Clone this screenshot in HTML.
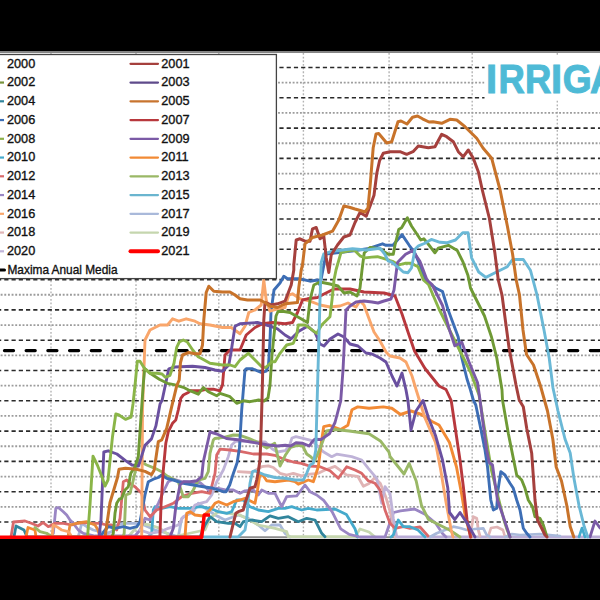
<!DOCTYPE html><html><head><meta charset="utf-8"><style>html,body{margin:0;padding:0;background:#000;width:600px;height:600px;overflow:hidden}svg{display:block}text{font-family:"Liberation Sans",sans-serif}</style></head><body>
<svg width="600" height="600" viewBox="0 0 600 600">
<rect x="0" y="0" width="600" height="600" fill="#000"/>
<rect x="0" y="51" width="600" height="488" fill="#fff"/>
<rect x="0" y="51" width="600" height="2" fill="#858585"/>
<line x1="51.00" y1="53" x2="51.00" y2="538" stroke="#b4b4b4" stroke-width="1.4" stroke-dasharray="1.8 1.87"/>
<line x1="136.00" y1="53" x2="136.00" y2="538" stroke="#b4b4b4" stroke-width="1.4" stroke-dasharray="1.8 1.87"/>
<line x1="218.80" y1="53" x2="218.80" y2="538" stroke="#b4b4b4" stroke-width="1.4" stroke-dasharray="1.8 1.87"/>
<line x1="303.40" y1="53" x2="303.40" y2="538" stroke="#b4b4b4" stroke-width="1.4" stroke-dasharray="1.8 1.87"/>
<line x1="389.10" y1="53" x2="389.10" y2="538" stroke="#b4b4b4" stroke-width="1.4" stroke-dasharray="1.8 1.87"/>
<line x1="472.20" y1="53" x2="472.20" y2="538" stroke="#b4b4b4" stroke-width="1.4" stroke-dasharray="1.8 1.87"/>
<line x1="557.30" y1="53" x2="557.30" y2="538" stroke="#b4b4b4" stroke-width="1.4" stroke-dasharray="1.8 1.87"/>
<line x1="0" y1="67.50" x2="600" y2="67.50" stroke="#2a2a2a" stroke-width="1.6" stroke-dasharray="4.2 3.04" stroke-dashoffset="2.96"/>
<line x1="0" y1="82.65" x2="600" y2="82.65" stroke="#9c9c9c" stroke-width="1.8" stroke-dasharray="1.9 1.75" stroke-dashoffset="3.0"/>
<line x1="0" y1="97.80" x2="600" y2="97.80" stroke="#2a2a2a" stroke-width="1.6" stroke-dasharray="4.2 3.04" stroke-dashoffset="2.96"/>
<line x1="0" y1="112.95" x2="600" y2="112.95" stroke="#9c9c9c" stroke-width="1.8" stroke-dasharray="1.9 1.75" stroke-dashoffset="3.0"/>
<line x1="0" y1="128.10" x2="600" y2="128.10" stroke="#2a2a2a" stroke-width="1.6" stroke-dasharray="4.2 3.04" stroke-dashoffset="2.96"/>
<line x1="0" y1="143.25" x2="600" y2="143.25" stroke="#9c9c9c" stroke-width="1.8" stroke-dasharray="1.9 1.75" stroke-dashoffset="3.0"/>
<line x1="0" y1="158.40" x2="600" y2="158.40" stroke="#2a2a2a" stroke-width="1.6" stroke-dasharray="4.2 3.04" stroke-dashoffset="2.96"/>
<line x1="0" y1="173.55" x2="600" y2="173.55" stroke="#9c9c9c" stroke-width="1.8" stroke-dasharray="1.9 1.75" stroke-dashoffset="3.0"/>
<line x1="0" y1="188.70" x2="600" y2="188.70" stroke="#2a2a2a" stroke-width="1.6" stroke-dasharray="4.2 3.04" stroke-dashoffset="2.96"/>
<line x1="0" y1="203.85" x2="600" y2="203.85" stroke="#9c9c9c" stroke-width="1.8" stroke-dasharray="1.9 1.75" stroke-dashoffset="3.0"/>
<line x1="0" y1="219.00" x2="600" y2="219.00" stroke="#2a2a2a" stroke-width="1.6" stroke-dasharray="4.2 3.04" stroke-dashoffset="2.96"/>
<line x1="0" y1="234.15" x2="600" y2="234.15" stroke="#9c9c9c" stroke-width="1.8" stroke-dasharray="1.9 1.75" stroke-dashoffset="3.0"/>
<line x1="0" y1="249.30" x2="600" y2="249.30" stroke="#2a2a2a" stroke-width="1.6" stroke-dasharray="4.2 3.04" stroke-dashoffset="2.96"/>
<line x1="0" y1="264.45" x2="600" y2="264.45" stroke="#9c9c9c" stroke-width="1.8" stroke-dasharray="1.9 1.75" stroke-dashoffset="3.0"/>
<line x1="0" y1="279.60" x2="600" y2="279.60" stroke="#2a2a2a" stroke-width="1.6" stroke-dasharray="4.2 3.04" stroke-dashoffset="2.96"/>
<line x1="0" y1="294.75" x2="600" y2="294.75" stroke="#9c9c9c" stroke-width="1.8" stroke-dasharray="1.9 1.75" stroke-dashoffset="3.0"/>
<line x1="0" y1="309.90" x2="600" y2="309.90" stroke="#2a2a2a" stroke-width="1.6" stroke-dasharray="4.2 3.04" stroke-dashoffset="2.96"/>
<line x1="0" y1="325.05" x2="600" y2="325.05" stroke="#9c9c9c" stroke-width="1.8" stroke-dasharray="1.9 1.75" stroke-dashoffset="3.0"/>
<line x1="0" y1="340.20" x2="600" y2="340.20" stroke="#2a2a2a" stroke-width="1.6" stroke-dasharray="4.2 3.04" stroke-dashoffset="2.96"/>
<line x1="0" y1="355.35" x2="600" y2="355.35" stroke="#9c9c9c" stroke-width="1.8" stroke-dasharray="1.9 1.75" stroke-dashoffset="3.0"/>
<line x1="0" y1="370.50" x2="600" y2="370.50" stroke="#2a2a2a" stroke-width="1.6" stroke-dasharray="4.2 3.04" stroke-dashoffset="2.96"/>
<line x1="0" y1="385.65" x2="600" y2="385.65" stroke="#9c9c9c" stroke-width="1.8" stroke-dasharray="1.9 1.75" stroke-dashoffset="3.0"/>
<line x1="0" y1="400.80" x2="600" y2="400.80" stroke="#2a2a2a" stroke-width="1.6" stroke-dasharray="4.2 3.04" stroke-dashoffset="2.96"/>
<line x1="0" y1="415.95" x2="600" y2="415.95" stroke="#9c9c9c" stroke-width="1.8" stroke-dasharray="1.9 1.75" stroke-dashoffset="3.0"/>
<line x1="0" y1="431.10" x2="600" y2="431.10" stroke="#2a2a2a" stroke-width="1.6" stroke-dasharray="4.2 3.04" stroke-dashoffset="2.96"/>
<line x1="0" y1="446.25" x2="600" y2="446.25" stroke="#9c9c9c" stroke-width="1.8" stroke-dasharray="1.9 1.75" stroke-dashoffset="3.0"/>
<line x1="0" y1="461.40" x2="600" y2="461.40" stroke="#2a2a2a" stroke-width="1.6" stroke-dasharray="4.2 3.04" stroke-dashoffset="2.96"/>
<line x1="0" y1="476.55" x2="600" y2="476.55" stroke="#9c9c9c" stroke-width="1.8" stroke-dasharray="1.9 1.75" stroke-dashoffset="3.0"/>
<line x1="0" y1="491.70" x2="600" y2="491.70" stroke="#2a2a2a" stroke-width="1.6" stroke-dasharray="4.2 3.04" stroke-dashoffset="2.96"/>
<line x1="0" y1="506.85" x2="600" y2="506.85" stroke="#9c9c9c" stroke-width="1.8" stroke-dasharray="1.9 1.75" stroke-dashoffset="3.0"/>
<line x1="0" y1="522.00" x2="600" y2="522.00" stroke="#2a2a2a" stroke-width="1.6" stroke-dasharray="4.2 3.04" stroke-dashoffset="2.96"/>
<line x1="4.4" y1="350.6" x2="600" y2="350.6" stroke="#000" stroke-width="3.1" stroke-linecap="round" stroke-dasharray="9.2 12.5"/>
<polyline points="0.0,537.3 600.0,537.3" fill="none" stroke="#8c8c8c" stroke-width="2.0" stroke-linejoin="round" stroke-linecap="round"/>
<polyline points="395.0,536.8 600.0,536.8" fill="none" stroke="#b9acd6" stroke-width="2.8" stroke-linejoin="round" stroke-linecap="round"/>
<polyline points="590.0,537.0 595.0,521.0 600.0,528.0" fill="none" stroke="#7b5aa6" stroke-width="2.8" stroke-linejoin="round" stroke-linecap="round"/>
<polyline points="579.0,537.0 582.0,528.0 585.0,537.0" fill="none" stroke="#45aacc" stroke-width="2.6" stroke-linejoin="round" stroke-linecap="round"/>
<polyline points="78.3,536.7 81.7,523.3 86.7,526.7 93.3,530.0 100.0,531.7 106.7,533.3 111.7,531.7 116.7,525.0 123.3,523.3 133.3,523.3 140.0,523.3 155.0,530.0 170.0,534.0 178.3,537.0 181.7,518.3 186.7,515.0 193.3,511.7 198.3,503.3 205.0,508.0 215.0,515.0 225.0,520.0 238.3,515.0 248.3,518.3 258.3,525.0 265.0,530.8 271.7,525.0 280.0,525.0 285.0,533.3 290.0,537.0" fill="none" stroke="#a9b9da" stroke-width="2.8" stroke-linejoin="round" stroke-linecap="round"/>
<polyline points="128.0,537.0 140.0,523.3 150.0,525.0 160.0,528.3 166.7,533.3 172.0,537.0 205.0,530.0 210.0,518.3 218.3,511.7 228.3,513.3 240.0,515.0 258.3,525.0 275.0,528.3 286.7,531.7 288.3,536.7 355.0,536.7 360.0,529.0 369.0,532.0 375.0,537.0" fill="none" stroke="#c5d6ae" stroke-width="2.8" stroke-linejoin="round" stroke-linecap="round"/>
<polyline points="14.0,537.0 16.0,526.0 24.0,530.0 27.0,537.0 200.0,537.0 205.0,525.0 210.0,516.7 216.7,521.7 228.3,523.3 235.0,523.3 240.0,526.7 243.3,521.7 251.7,520.0 261.7,521.7 270.0,515.8 278.3,518.3 288.3,516.7 298.3,521.7 306.7,518.3 315.0,520.0 321.7,533.3 325.0,536.7" fill="none" stroke="#31859c" stroke-width="2.8" stroke-linejoin="round" stroke-linecap="round"/>
<polyline points="148.0,537.0 151.7,533.3 153.3,510.0 155.0,506.7 161.7,508.3 170.0,506.7 178.3,508.3 190.0,508.3 200.0,506.7 210.0,508.3 218.3,511.7 226.7,513.3 231.7,511.7 236.7,500.0 243.3,500.0 250.0,506.7 258.3,510.0 268.3,511.7 278.3,508.3 285.0,508.3 291.7,506.7 301.7,510.0 308.3,508.3 316.7,510.0 335.0,509.0 346.4,514.6 355.0,528.8 357.7,537.0" fill="none" stroke="#45aacc" stroke-width="2.8" stroke-linejoin="round" stroke-linecap="round"/>
<polyline points="50.0,537.0 53.3,533.3 55.8,508.3 58.3,507.5 63.3,511.7 66.7,515.0 70.0,520.0 73.3,523.3 78.3,530.0 83.3,533.3 95.0,536.0 135.0,536.0 140.0,530.0 145.0,518.3 150.0,520.0 153.3,513.3 158.3,503.3 165.0,488.3 168.3,481.7 173.3,479.2 181.7,481.7 190.0,482.5 200.0,482.5 206.7,488.3 210.0,491.7 213.3,488.3 218.3,488.3 226.7,490.0 233.3,490.0 240.0,493.3 245.0,490.8 253.3,490.0 258.3,495.0 261.7,490.0 268.3,493.3 275.0,493.3 281.7,506.7 286.7,496.7 296.7,495.8 305.0,485.0 310.0,491.7 316.7,495.0 323.7,500.4 332.2,511.8 340.7,528.8 349.2,534.4 360.0,537.0 385.0,537.0 393.5,512.5 400.5,510.8 414.5,509.0 425.0,514.2 435.5,523.0 442.5,533.5 446.0,537.0" fill="none" stroke="#9a86c4" stroke-width="2.8" stroke-linejoin="round" stroke-linecap="round"/>
<polyline points="238.3,471.7 251.7,472.5 261.7,466.7 268.3,465.8 273.3,467.5 280.0,473.3 286.7,475.0 293.3,473.3 301.7,475.8 310.0,474.2 318.3,473.3 325.0,470.0 335.0,466.4 346.4,474.9 357.7,476.3 363.4,486.2 369.0,483.4 374.7,477.7 380.4,483.4 386.0,497.6 391.8,517.4 395.0,537.0" fill="none" stroke="#e0b4b5" stroke-width="2.8" stroke-linejoin="round" stroke-linecap="round"/>
<polyline points="470.0,537.0 471.7,526.7 473.3,516.7 476.7,518.3 478.3,530.0 480.0,536.0" fill="none" stroke="#e0b4b5" stroke-width="2.8" stroke-linejoin="round" stroke-linecap="round"/>
<polyline points="488.0,537.0 491.0,528.0 497.0,527.0 503.0,530.0 505.0,537.0" fill="none" stroke="#e0b4b5" stroke-width="2.6" stroke-linejoin="round" stroke-linecap="round"/>
<polyline points="430.0,537.0 436.7,533.3 445.0,530.0 453.3,526.7 460.0,528.0 466.7,530.0 475.0,529.0 483.3,528.3 486.7,535.0 490.0,537.0" fill="none" stroke="#a9b9da" stroke-width="2.7" stroke-linejoin="round" stroke-linecap="round"/>
<polyline points="505.0,537.0 512.0,534.0 520.0,535.0 540.0,534.0 560.0,536.0" fill="none" stroke="#a9b9da" stroke-width="2.6" stroke-linejoin="round" stroke-linecap="round"/>
<polyline points="140.0,530.0 150.0,533.3 160.0,531.7 168.3,528.3 178.3,525.0 183.3,516.7 190.0,513.3 195.0,505.0 200.0,503.3 206.7,501.7 211.7,495.0 216.7,481.7 223.3,470.0 228.3,456.7 231.7,445.0 236.0,441.0 248.0,441.3 257.3,442.0 265.3,442.0 272.0,448.7 277.3,452.0 285.3,450.7 289.3,446.0 292.0,438.0 296.0,436.7 304.0,438.7 312.0,440.7 318.0,446.6 323.3,451.7 331.7,456.7 336.7,454.2 351.7,456.7 361.7,460.0 368.3,468.3 376.7,478.3 381.7,503.3 385.0,486.7 390.0,493.3 393.3,518.3 396.7,536.7" fill="none" stroke="#bfb3d8" stroke-width="2.8" stroke-linejoin="round" stroke-linecap="round"/>
<polyline points="11.0,537.0 13.5,522.0 25.0,521.0 32.0,523.5 38.0,526.0 43.0,522.5 48.3,526.7 55.0,523.3 63.3,523.3 71.7,525.0 76.7,523.3 85.0,522.5 91.7,523.3 100.0,523.3 106.7,525.0 111.7,525.0 116.7,530.0 120.0,518.3 123.3,481.7 126.7,480.0 130.8,484.2 135.0,486.7 140.0,491.7 141.7,493.3 145.0,510.0 150.0,516.7 156.7,510.0 165.0,506.7 173.3,503.3 181.7,496.7 191.7,493.3 201.7,491.7 210.0,493.3 215.0,473.3 216.7,455.0 220.0,449.2 230.0,450.0 240.0,451.3 253.3,454.0 266.7,454.0 274.7,455.3 284.0,459.3 293.3,462.0 301.3,463.3 309.3,466.0 320.0,466.7 330.0,470.8 338.3,478.3 346.7,466.7 355.0,470.0 361.7,473.3 368.3,480.8 375.0,483.3 380.0,490.0 385.0,510.0 390.0,523.3 395.0,528.3 403.3,526.7 410.0,528.3 420.0,527.0 428.0,536.0" fill="none" stroke="#d9696a" stroke-width="2.8" stroke-linejoin="round" stroke-linecap="round"/>
<polyline points="185.0,537.0 186.7,513.3 190.0,511.7 195.0,515.0 203.0,516.0 210.0,510.0 215.0,503.3 218.3,501.7 226.7,505.0 233.3,501.7 240.0,500.0 245.0,498.3 255.0,503.3 257.5,490.0 260.0,473.3 263.3,475.8 266.7,480.8 275.0,481.7 288.3,480.0 295.0,481.7 298.3,484.2 308.3,480.0 313.3,481.7 318.3,466.7 321.7,440.0 323.7,426.7 329.4,425.3 340.7,429.5 347.8,425.3 352.0,409.7 357.7,406.9 369.0,408.3 383.3,406.9 391.8,408.3 400.5,414.5 411.0,411.0 421.5,414.5 432.0,421.5 439.0,425.0 449.5,442.5 456.5,467.0 461.8,495.0 465.2,516.0 468.8,530.0 471.0,537.0" fill="none" stroke="#f28a35" stroke-width="2.9" stroke-linejoin="round" stroke-linecap="round"/>
<polyline points="26.0,537.0 28.0,527.5 35.0,530.0 36.0,537.0" fill="none" stroke="#f28a35" stroke-width="2.8" stroke-linejoin="round" stroke-linecap="round"/>
<polyline points="68.0,537.0 70.0,525.0 78.0,523.0 86.7,521.7 95.0,525.0 98.0,530.0 100.0,537.0" fill="none" stroke="#e8893a" stroke-width="2.8" stroke-linejoin="round" stroke-linecap="round"/>
<polyline points="52.0,537.0 53.3,525.0 56.7,526.7 61.7,530.0 68.3,531.7 70.8,535.0" fill="none" stroke="#f9a66b" stroke-width="2.8" stroke-linejoin="round" stroke-linecap="round"/>
<polyline points="35.0,527.5 40.0,531.7 46.7,533.3 52.0,537.0 123.0,537.0 124.2,533.3 125.8,495.0 130.0,493.3 133.3,480.0 136.7,465.0 138.3,461.7 143.3,463.3 146.7,465.0 155.0,468.3 161.7,471.7 166.7,475.8 173.3,479.2 178.3,481.7 183.3,496.7 188.3,496.7 193.3,490.0 198.3,480.0 205.0,478.3 208.3,471.7 210.0,453.3 213.3,440.0 214.8,438.5 224.0,437.4 233.5,435.0 240.0,435.3 249.3,438.7 257.3,442.0 266.7,448.0 274.7,443.3 280.0,466.0 285.3,455.3 290.7,447.3 297.3,445.3 302.7,446.0 306.7,454.0 310.7,456.7 314.7,460.7 320.0,448.7 326.5,431.0 335.0,429.5 349.2,431.0 369.0,433.8 380.4,440.9 389.0,452.2 390.0,456.5 404.0,474.0 409.2,463.5 416.2,481.0 421.5,505.5 428.5,519.5 439.0,524.8 449.5,530.0 460.0,537.0" fill="none" stroke="#9ab866" stroke-width="2.9" stroke-linejoin="round" stroke-linecap="round"/>
<polyline points="100.0,537.0 105.0,530.0 108.3,526.7 115.0,528.3 123.3,526.7 130.0,528.3 136.7,526.7 140.0,521.7 145.0,495.0 148.3,481.7 153.3,479.2 158.3,477.5 161.7,475.0 166.7,478.3 173.3,480.0 183.3,483.3 193.3,485.0 203.3,486.7 213.3,488.3 223.3,491.7 226.0,491.7 229.7,485.0 233.5,473.0 237.2,462.5 239.5,447.5 241.7,410.0 245.0,370.0 246.2,368.8 252.5,368.8 261.2,372.5 266.2,371.2 268.5,365.0 270.0,340.0 271.0,312.0 274.0,290.0 280.0,283.0 283.8,276.2 287.5,278.8 300.0,278.8 310.0,281.2 317.5,280.0 320.0,285.0 326.0,254.0 352.0,251.0 367.5,248.8 382.5,243.8 386.0,245.3 393.0,245.3 402.0,234.6 409.2,245.3 414.5,252.4 419.9,264.9 425.2,280.0 435.5,288.0 442.5,291.5 447.8,309.0 453.0,323.0 458.2,337.0 461.8,358.0 467.0,379.0 470.5,390.0 473.3,400.0 475.8,405.0 480.0,425.0 485.0,450.0 487.5,466.7 490.8,500.0 493.3,510.0 496.7,508.3 498.0,490.0 500.8,471.7 505.0,475.0 510.0,483.3 513.3,488.3 516.7,500.0 520.0,510.0 523.3,528.3 526.7,533.3 530.0,537.0" fill="none" stroke="#3d6eb5" stroke-width="2.9" stroke-linejoin="round" stroke-linecap="round"/>
<polyline points="141.7,537.0 142.5,410.0 145.0,340.0 150.0,330.0 160.0,325.0 167.5,325.0 172.5,318.8 178.8,321.2 186.2,318.8 195.0,321.2 200.0,323.8 210.0,325.0 222.5,327.5 231.2,327.5 240.0,333.8 245.0,326.2 248.8,312.5 255.0,310.0 261.2,305.0 263.8,280.0 266.2,300.0 270.0,311.2 277.5,308.8 285.0,307.5 288.8,295.0 292.5,293.8 300.0,298.8 310.0,301.2 320.0,305.0 330.0,307.0 340.0,306.0 348.0,303.0 356.0,307.0 360.0,301.0 364.0,305.0 368.0,316.0 374.0,332.0 380.0,341.0 386.0,352.0 390.0,356.0 400.0,358.0 406.0,362.0 412.0,376.0 416.2,390.0 425.0,418.0 435.5,442.5 440.8,470.5 446.0,502.0 451.2,530.0 453.0,537.0" fill="none" stroke="#f9a66b" stroke-width="2.9" stroke-linejoin="round" stroke-linecap="round"/>
<polyline points="159.9,537.0 161.0,505.0 163.3,470.0 165.8,443.3 168.3,431.7 172.5,423.3 175.8,420.0 178.3,410.0 180.8,398.3 183.3,395.0 188.3,392.5 190.0,390.8 200.0,390.8 206.7,389.2 213.3,389.2 220.0,390.8 222.5,385.0 225.0,355.0 230.0,350.0 240.0,350.0 246.2,335.0 255.0,327.5 262.5,323.8 272.5,322.5 285.0,323.8 292.5,322.5 297.5,312.5 302.5,300.0 307.5,298.8 317.5,297.5 324.0,294.0 334.0,289.0 350.0,289.0 364.0,292.0 384.0,293.0 395.0,296.0 402.0,314.0 408.0,332.0 414.5,351.0 425.0,368.5 439.0,386.0 446.0,389.5 451.2,400.5 454.8,425.0 460.0,460.0 463.5,488.0 467.0,519.5 470.5,537.0" fill="none" stroke="#b8383d" stroke-width="2.9" stroke-linejoin="round" stroke-linecap="round"/>
<polyline points="99.0,537.0 101.0,520.0 103.8,452.0 108.2,450.8 116.9,454.0 125.5,460.6 132.0,465.0 138.5,466.0 145.0,445.4 151.5,438.9 155.9,425.9 160.0,404.2 162.2,400.0 168.8,368.8 175.0,367.0 192.5,366.2 205.0,367.5 215.0,370.0 222.5,371.2 228.8,365.0 231.0,352.5 235.0,326.2 240.0,323.8 257.5,322.5 270.0,326.2 277.5,328.8 285.0,335.0 291.2,338.8 298.8,331.2 307.5,326.2 315.0,332.5 320.0,344.0 324.0,346.0 330.0,339.0 338.0,334.0 344.0,337.0 350.0,344.0 358.0,346.0 366.0,353.0 372.0,354.0 380.0,358.0 386.0,362.0 392.0,376.0 397.0,386.0 402.0,373.0 406.0,390.0 408.0,401.0 411.0,430.0 416.0,411.0 423.0,400.5 428.5,418.0 435.5,435.5 442.5,460.0 447.8,488.0 449.5,512.5 454.8,519.5 460.0,512.5 467.0,523.0 475.0,537.0" fill="none" stroke="#6a50a0" stroke-width="2.9" stroke-linejoin="round" stroke-linecap="round"/>
<polyline points="170.0,537.0 173.3,528.3 175.8,506.7 180.0,485.0 183.3,481.7 190.0,481.7 196.7,480.8 201.7,476.7 203.3,461.7 206.7,446.7 210.0,432.0 217.0,434.0 226.4,438.5 240.0,440.0 250.7,442.0 266.7,444.7 277.3,446.0 285.3,445.3 290.7,446.0 296.0,442.7 302.7,443.3 309.3,446.0 312.0,442.0 314.7,439.3 321.0,439.5 329.4,433.8 335.0,422.5 340.7,401.0" fill="none" stroke="#7b5aa6" stroke-width="2.9" stroke-linejoin="round" stroke-linecap="round"/>
<polyline points="112.0,537.0 113.3,533.3 115.0,513.3 116.7,503.3 119.2,499.2 121.7,498.3 125.0,490.0 128.3,486.7 130.8,473.3 135.0,466.7 138.3,456.7 141.3,412.7 143.3,383.8 144.7,368.7 151.3,374.0 159.3,379.3 167.3,383.3 174.0,384.7 183.3,387.3 190.0,390.7 198.3,394.2 203.3,387.5 208.3,391.7 216.7,395.8 220.0,393.3 230.0,396.7 236.7,403.3 243.3,400.8 250.0,401.7 258.5,400.0 264.0,401.0 268.0,398.0 270.0,385.0 272.0,355.0 274.0,335.0 276.0,316.0 278.0,311.5 282.5,311.2 290.0,312.5 298.8,317.5 307.5,322.5 310.0,300.0 313.8,285.0 320.0,282.0 330.0,284.0 338.0,286.0 344.0,293.0 350.0,292.0 357.0,296.0 360.0,288.0 362.0,270.0 364.2,253.0 370.0,247.5 375.8,248.3 380.0,248.8 384.2,251.7 388.3,254.2 393.3,254.2 395.0,245.0 397.5,235.0 398.7,229.5 401.6,227.8 407.4,217.8 411.5,226.0 416.2,233.0 420.8,240.0 423.8,238.8 427.8,243.5 434.9,252.8 438.3,248.2 448.4,245.3 457.3,250.6 462.7,261.3 468.0,275.6 470.5,288.0 484.5,316.0 491.5,337.0 496.8,358.0 500.2,379.0 502.0,390.0 502.5,400.0 508.3,433.3 513.3,458.3 516.7,475.0 521.7,480.0 525.0,488.3 528.3,500.0 532.5,506.7 535.0,516.7 540.0,518.3 543.3,525.0 546.7,536.0" fill="none" stroke="#6f9a35" stroke-width="2.9" stroke-linejoin="round" stroke-linecap="round"/>
<polyline points="87.5,537.5 90.0,505.0 93.0,456.2 97.3,465.0 101.7,476.0 105.0,486.0 108.0,480.0 112.5,436.7 115.8,414.0 119.0,415.0 125.5,419.4 131.0,417.2 133.0,404.0 135.3,382.5 137.3,361.3 140.0,361.3 144.7,368.7 150.0,373.3 156.7,373.3 162.0,374.0 165.3,377.3 170.0,375.3 174.0,363.3 176.7,347.3 179.3,342.0 183.3,340.0 187.3,342.0 192.7,350.0 198.0,356.7 202.0,358.7 210.0,363.3 222.5,365.0 230.0,365.0 235.0,366.7 240.0,360.0 248.3,353.3 255.0,360.0 261.7,366.7 265.8,367.5 271.7,361.7 275.0,361.7 280.0,353.3 286.7,345.0 293.3,343.3 296.7,335.0 298.3,325.0 305.0,325.0 310.0,328.3 316.7,333.3 321.7,325.0 330.0,316.7 332.0,300.0 334.0,280.0 336.0,270.0 341.0,252.5 352.5,250.0 355.0,250.8 360.0,255.8 365.0,257.9 371.7,257.1 377.5,256.7 383.3,258.3 388.3,260.0 393.3,261.7 398.3,265.0 401.7,264.2 405.0,263.3 411.0,263.3 418.0,266.7 423.4,280.0 428.5,284.5 439.0,309.0 449.5,330.0 460.0,351.0 470.5,372.0 479.0,395.0 486.2,439.0 491.5,470.5 498.5,498.5 503.8,519.5 507.2,530.0 510.0,537.0" fill="none" stroke="#8ab548" stroke-width="2.9" stroke-linejoin="round" stroke-linecap="round"/>
<polyline points="340.7,401.0 343.0,370.0 344.0,350.0 346.0,310.0 350.0,306.0 356.0,302.0 364.0,301.0 372.0,302.0 378.0,303.0 384.0,301.0 391.0,299.0 394.0,290.0 397.5,262.5 405.6,254.2 412.7,250.6 419.9,261.3 427.0,280.0 432.0,284.5 442.5,305.5 449.5,330.0 454.8,345.8 461.8,342.2 468.8,361.5 477.5,382.5 480.0,400.0 483.3,425.0 486.7,450.0 489.2,462.5 492.5,465.0 495.0,483.3 497.5,500.0 503.3,516.7 508.3,531.7 510.0,537.0" fill="none" stroke="#7b5aa6" stroke-width="2.9" stroke-linejoin="round" stroke-linecap="round"/>
<polyline points="204.0,537.0 238.3,536.7 245.0,530.0 246.7,520.0 248.3,498.3 250.0,483.3 252.5,471.7 255.0,470.8 265.0,475.0 275.0,477.5 285.0,478.3 295.0,480.0 303.3,480.0 306.7,473.3 310.0,465.0 313.3,463.3 315.8,450.0 318.0,370.0 320.0,300.0 321.2,262.5 323.8,253.8 332.5,251.2 352.5,248.8 366.2,250.0 380.0,248.2 384.7,254.0 388.2,261.0 391.7,262.2 397.5,266.8 403.3,272.0 408.0,272.7 411.5,268.0 415.0,249.3 418.5,245.8 424.3,243.5 431.3,239.4 440.0,242.3 446.6,242.8 455.5,240.0 462.7,232.8 468.0,232.8 471.6,257.8 478.7,272.0 485.9,277.4 496.6,272.0 507.3,266.7 512.6,259.5 523.3,259.5 530.4,270.2 537.0,295.0 544.0,330.0 549.2,358.0 553.0,388.0 558.0,411.0 565.0,439.0 570.2,453.0 573.8,477.5 579.0,505.5 584.2,526.5 587.8,537.0" fill="none" stroke="#6ab8d6" stroke-width="2.9" stroke-linejoin="round" stroke-linecap="round"/>
<polyline points="230.0,537.0 233.3,523.3 235.8,513.3 238.3,511.7 243.3,510.0 245.0,503.3 250.0,488.3 255.0,486.7 256.7,480.0 258.3,471.7 260.0,460.0 260.8,440.0 262.0,400.0 262.5,380.0 263.8,320.0 265.0,302.5 271.2,305.0 277.5,303.8 285.0,301.2 291.2,285.0 293.8,270.0 293.8,265.0 296.2,240.0 300.0,238.8 305.0,241.2 310.0,241.2 312.5,228.8 316.2,227.5 320.0,238.8 323.8,236.2 326.2,257.5 328.8,272.5 331.2,255.0 337.5,245.0 343.8,237.0 350.0,235.0 355.0,222.5 360.0,212.5 366.2,216.2 371.3,202.7 374.0,195.3 376.8,173.3 379.6,160.5 383.3,153.3 390.0,151.7 400.0,151.7 406.7,154.3 413.0,151.7 418.3,146.0 428.3,147.7 435.0,146.7 441.7,134.3 446.7,136.7 453.3,141.7 458.3,151.7 463.3,156.7 468.3,150.0 473.3,158.3 478.3,171.7 482.3,190.0 489.4,218.5 494.8,252.4 498.3,280.0 502.0,295.0 509.0,347.5 516.0,385.0 519.2,400.0 523.3,406.7 526.7,428.3 531.7,453.3 535.0,500.0 537.5,520.0 541.7,528.3 545.0,535.0 547.0,537.0" fill="none" stroke="#a5403d" stroke-width="3.0" stroke-linejoin="round" stroke-linecap="round"/>
<polyline points="105.0,537.5 110.0,502.5 117.5,477.5 119.0,469.2 125.5,468.2 136.4,469.2 145.0,471.4 151.5,474.7 154.2,470.0 158.3,441.7 161.7,440.0 166.7,428.3 171.7,406.7 176.7,385.8 179.2,380.0 180.5,362.5 182.5,355.0 188.8,352.5 195.0,353.8 200.0,353.8 202.5,345.0 203.8,320.0 206.2,292.5 208.8,286.2 213.8,291.2 222.5,292.0 230.0,292.0 235.0,295.0 240.0,298.8 247.5,300.0 260.0,300.0 265.0,302.5 270.0,306.2 277.5,307.5 285.0,303.8 297.5,302.5 298.8,287.5 301.2,270.0 302.5,265.0 305.0,243.8 312.5,237.5 322.5,235.0 332.5,231.2 338.8,220.0 343.8,206.0 349.3,207.2 355.0,209.0 362.0,211.0 365.0,212.0 368.0,208.0 370.4,182.5 373.2,147.7 376.0,134.0 378.7,133.5 386.7,143.0 391.7,141.7 398.0,121.7 401.0,121.0 407.0,124.0 412.5,117.2 417.5,116.0 422.5,118.8 429.0,122.0 433.0,121.7 441.7,123.3 450.0,119.3 456.7,120.0 465.0,126.7 476.7,138.3 483.0,148.0 491.7,158.3 500.1,190.0 507.3,225.7 512.6,254.2 516.2,280.0 519.5,295.0 523.0,330.0 526.5,354.5 533.5,365.0 540.5,386.0 547.5,411.0 552.8,439.0 556.2,467.0 561.5,481.0 566.8,505.5 570.2,526.5 573.8,537.0" fill="none" stroke="#c8732a" stroke-width="3.0" stroke-linejoin="round" stroke-linecap="round"/>
<polyline points="391.0,537.0 393.3,535.0 398.3,520.0 403.3,526.7 410.0,526.7 418.0,530.0 425.0,537.0" fill="none" stroke="#45aacc" stroke-width="2.8" stroke-linejoin="round" stroke-linecap="round"/>
<polyline points="0,537.2 201.7,537.2 204.2,515 210,515" fill="none" stroke="#ff0000" stroke-width="3.5" stroke-linejoin="round"/>
<rect x="-5" y="54.5" width="281.4" height="224.1" fill="#fff" stroke="#444" stroke-width="1.3"/>
<text x="7" y="67.70" font-size="12.7" fill="#111" stroke="#111" stroke-width="0.35">2000</text>
<line x1="130.5" y1="63.80" x2="158" y2="63.80" stroke="#a5403d" stroke-width="2.2" stroke-linecap="round"/>
<text x="161.3" y="67.70" font-size="12.7" fill="#111" stroke="#111" stroke-width="0.35">2001</text>
<line x1="-26" y1="82.55" x2="4" y2="82.55" stroke="#77933c" stroke-width="2.2"/>
<text x="7" y="86.45" font-size="12.7" fill="#111" stroke="#111" stroke-width="0.35">2002</text>
<line x1="130.5" y1="82.55" x2="158" y2="82.55" stroke="#5f4b8b" stroke-width="2.2" stroke-linecap="round"/>
<text x="161.3" y="86.45" font-size="12.7" fill="#111" stroke="#111" stroke-width="0.35">2003</text>
<line x1="-26" y1="101.30" x2="4" y2="101.30" stroke="#31859c" stroke-width="2.2"/>
<text x="7" y="105.20" font-size="12.7" fill="#111" stroke="#111" stroke-width="0.35">2004</text>
<line x1="130.5" y1="101.30" x2="158" y2="101.30" stroke="#c8742f" stroke-width="2.2" stroke-linecap="round"/>
<text x="161.3" y="105.20" font-size="12.7" fill="#111" stroke="#111" stroke-width="0.35">2005</text>
<line x1="-26" y1="120.05" x2="4" y2="120.05" stroke="#3d6eb5" stroke-width="2.2"/>
<text x="7" y="123.95" font-size="12.7" fill="#111" stroke="#111" stroke-width="0.35">2006</text>
<line x1="130.5" y1="120.05" x2="158" y2="120.05" stroke="#b8383d" stroke-width="2.2" stroke-linecap="round"/>
<text x="161.3" y="123.95" font-size="12.7" fill="#111" stroke="#111" stroke-width="0.35">2007</text>
<line x1="-26" y1="138.80" x2="4" y2="138.80" stroke="#8db04a" stroke-width="2.2"/>
<text x="7" y="142.70" font-size="12.7" fill="#111" stroke="#111" stroke-width="0.35">2008</text>
<line x1="130.5" y1="138.80" x2="158" y2="138.80" stroke="#7b5aa6" stroke-width="2.2" stroke-linecap="round"/>
<text x="161.3" y="142.70" font-size="12.7" fill="#111" stroke="#111" stroke-width="0.35">2009</text>
<line x1="-26" y1="157.55" x2="4" y2="157.55" stroke="#45aacc" stroke-width="2.2"/>
<text x="7" y="161.45" font-size="12.7" fill="#111" stroke="#111" stroke-width="0.35">2010</text>
<line x1="130.5" y1="157.55" x2="158" y2="157.55" stroke="#f28a35" stroke-width="2.2" stroke-linecap="round"/>
<text x="161.3" y="161.45" font-size="12.7" fill="#111" stroke="#111" stroke-width="0.35">2011</text>
<line x1="-26" y1="176.30" x2="4" y2="176.30" stroke="#d9696a" stroke-width="2.2"/>
<text x="7" y="180.20" font-size="12.7" fill="#111" stroke="#111" stroke-width="0.35">2012</text>
<line x1="130.5" y1="176.30" x2="158" y2="176.30" stroke="#9ab866" stroke-width="2.2" stroke-linecap="round"/>
<text x="161.3" y="180.20" font-size="12.7" fill="#111" stroke="#111" stroke-width="0.35">2013</text>
<line x1="-26" y1="195.05" x2="4" y2="195.05" stroke="#9a86c4" stroke-width="2.2"/>
<text x="7" y="198.95" font-size="12.7" fill="#111" stroke="#111" stroke-width="0.35">2014</text>
<line x1="130.5" y1="195.05" x2="158" y2="195.05" stroke="#6ab5cf" stroke-width="2.2" stroke-linecap="round"/>
<text x="161.3" y="198.95" font-size="12.7" fill="#111" stroke="#111" stroke-width="0.35">2015</text>
<line x1="-26" y1="213.80" x2="4" y2="213.80" stroke="#f9a66b" stroke-width="2.2"/>
<text x="7" y="217.70" font-size="12.7" fill="#111" stroke="#111" stroke-width="0.35">2016</text>
<line x1="130.5" y1="213.80" x2="158" y2="213.80" stroke="#a9b9da" stroke-width="2.2" stroke-linecap="round"/>
<text x="161.3" y="217.70" font-size="12.7" fill="#111" stroke="#111" stroke-width="0.35">2017</text>
<line x1="-26" y1="232.55" x2="4" y2="232.55" stroke="#e0b4b5" stroke-width="2.2"/>
<text x="7" y="236.45" font-size="12.7" fill="#111" stroke="#111" stroke-width="0.35">2018</text>
<line x1="130.5" y1="232.55" x2="158" y2="232.55" stroke="#c5d6ae" stroke-width="2.2" stroke-linecap="round"/>
<text x="161.3" y="236.45" font-size="12.7" fill="#111" stroke="#111" stroke-width="0.35">2019</text>
<line x1="-26" y1="251.30" x2="4" y2="251.30" stroke="#bfb3d8" stroke-width="2.2"/>
<text x="7" y="255.20" font-size="12.7" fill="#111" stroke="#111" stroke-width="0.35">2020</text>
<line x1="130.5" y1="251.30" x2="158" y2="251.30" stroke="#ff0000" stroke-width="4" stroke-linecap="round"/>
<text x="161.3" y="255.20" font-size="12.7" fill="#111" stroke="#111" stroke-width="0.35">2021</text>
<line x1="-26" y1="270.05" x2="4.5" y2="270.05" stroke="#000" stroke-width="3" stroke-linecap="round"/>
<text x="7.5" y="273.95" font-size="12.7" fill="#111" stroke="#111" stroke-width="0.35" textLength="110" lengthAdjust="spacingAndGlyphs">Maxima Anual Media</text>
<rect x="484.5" y="55" width="116" height="44.5" fill="#fff"/>
<text transform="translate(486,93.4) scale(1.0,1.03)" x="0" y="0" font-size="40" font-weight="bold" fill="#4ebad6" stroke="#4ebad6" stroke-width="1">I</text>
<text transform="translate(498.6,93.4) scale(0.91,1.03)" x="0" y="0" font-size="40" font-weight="bold" fill="#4ebad6" stroke="#4ebad6" stroke-width="1">R</text>
<text transform="translate(525.1,93.4) scale(0.91,1.03)" x="0" y="0" font-size="40" font-weight="bold" fill="#4ebad6" stroke="#4ebad6" stroke-width="1">R</text>
<text transform="translate(551,93.4) scale(1.0,1.03)" x="0" y="0" font-size="40" font-weight="bold" fill="#4ebad6" stroke="#4ebad6" stroke-width="1">I</text>
<text transform="translate(562.8,93.4) scale(0.93,1.03)" x="0" y="0" font-size="40" font-weight="bold" fill="#4ebad6" stroke="#4ebad6" stroke-width="1">G</text>
<text transform="translate(590,93.4) scale(0.93,1.03)" x="0" y="0" font-size="40" font-weight="bold" fill="#4ebad6" stroke="#4ebad6" stroke-width="1">A</text>
</svg></body></html>
